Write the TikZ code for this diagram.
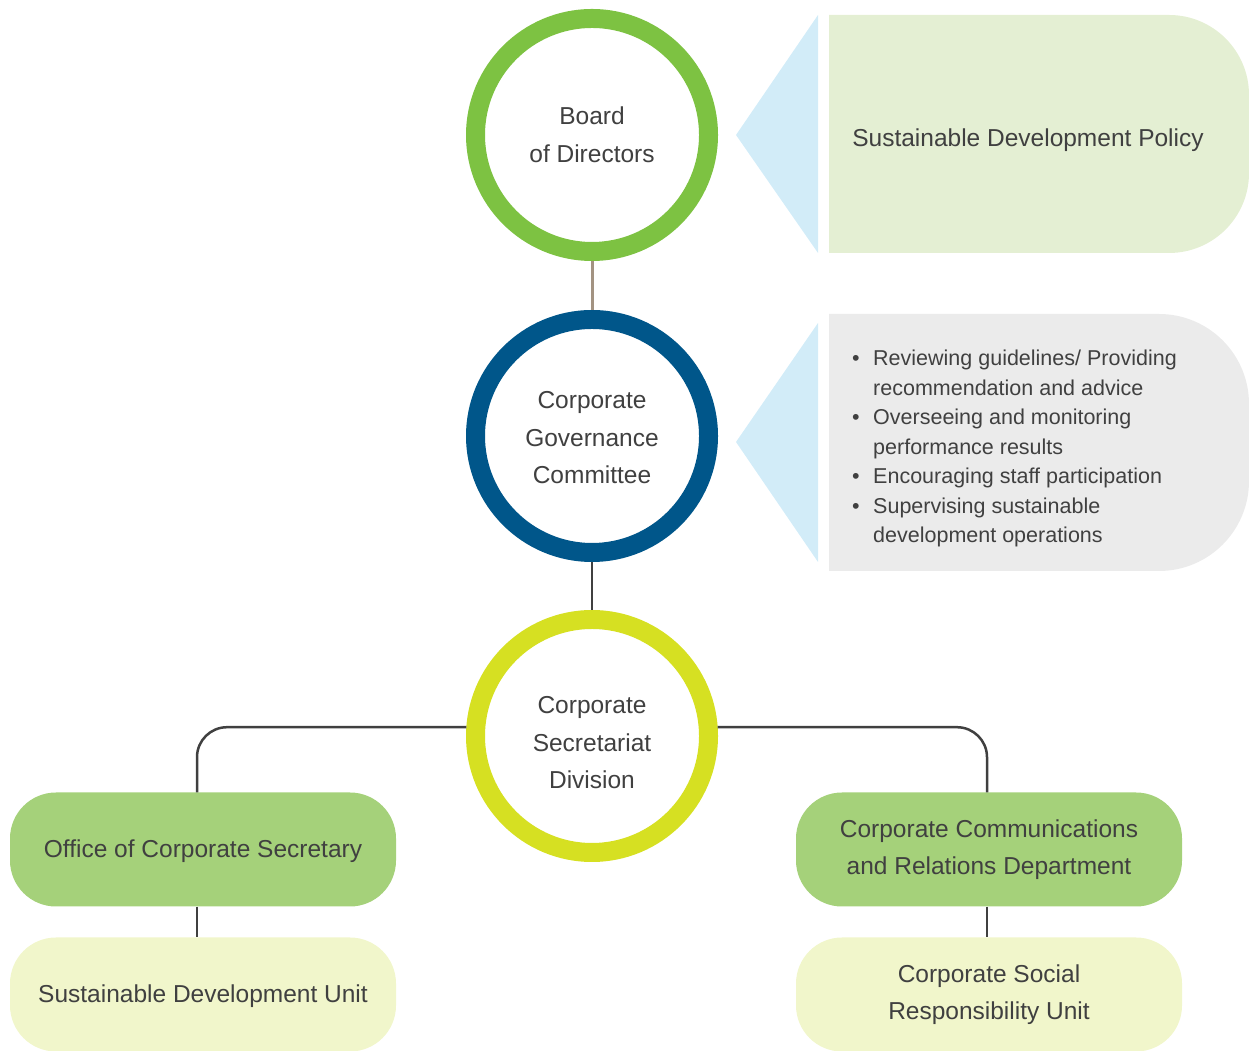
\documentclass[tikz,border=0pt]{standalone}
\usepackage{fontspec}
\setmainfont{Liberation Sans}
\usetikzlibrary{positioning}
\definecolor{boardgreen}{HTML}{7DC242}
\definecolor{cgcblue}{HTML}{00568A}
\definecolor{csdlime}{HTML}{D6E022}
\definecolor{policybg}{HTML}{E4EFD3}
\definecolor{dutybg}{HTML}{EBEBEB}
\definecolor{pointer}{HTML}{D2ECF8}
\definecolor{deptgreen}{HTML}{A5D17A}
\definecolor{unitbg}{HTML}{F1F6CB}
\definecolor{ink}{HTML}{404040}
\definecolor{tanline}{HTML}{A39382}

\begin{document}
\begin{tikzpicture}[x=1pt, y=1pt,
  ring/.style={circle, draw=#1, line width=19pt, fill=white, minimum size=233pt,
    inner sep=0pt, align=center, text=ink, font=\fontsize{24.5}{37.5}\selectfont},
  dept/.style={rounded corners=46pt, fill=#1, minimum width=386pt, minimum height=114pt,
    align=center, text=ink, font=\fontsize{24.5}{37.5}\selectfont},
  link/.style={draw=ink, line width=2.5pt}]
  \useasboundingbox (0,0) rectangle (1249,1051);

  \fill [policybg] (829,1036) -- (1169,1036) arc [start angle=90, end angle=0, radius=80]
    -- (1249,878) arc [start angle=0, end angle=-90, radius=80] -- (829,798) -- cycle;
  \fill [dutybg] (829,737) -- (1159,737) arc [start angle=90, end angle=0, radius=90]
    -- (1249,570) arc [start angle=0, end angle=-90, radius=90] -- (829,480) -- cycle;
  \fill [pointer] (736,916) -- (818,1036) -- (818,798) -- cycle;
  \fill [pointer] (736,609) -- (818,728) -- (818,489) -- cycle;

  \node [text=ink, font=\fontsize{24.5}{30}\selectfont] (policy) at (1028,911) {Sustainable Development Policy};
  \node [anchor=base west, inner sep=0pt, text=ink, font=\fontsize{21.5}{29.5}\selectfont] (duties) at (852,685)
    {\begin{tabular}[t]{@{}l@{\hspace{13.5pt}}l@{}}
      \textbullet & Reviewing guidelines/ Providing\\
                  & recommendation and advice\\
      \textbullet & Overseeing and monitoring\\
                  & performance results\\
      \textbullet & Encouraging staff participation\\
      \textbullet & Supervising sustainable\\
                  & development operations
    \end{tabular}};

  \node [ring=boardgreen] (board) at (592,916) {Board\\of Directors};
  \node [ring=cgcblue] (cgc) at (592,615) {\rule{0pt}{21pt}Corporate\\Governance\\Committee};
  \node [ring=csdlime] (csd) at (592,315) {\rule{0pt}{31pt}Corporate\\Secretariat\\Division};

  \node [dept=deptgreen] (office) at (203,201.5) {\rule{0pt}{22pt}Office of Corporate Secretary};
  \node [dept=unitbg] (sdu) at (203,56.5) {\rule{0pt}{22pt}Sustainable Development Unit};
  \node [dept=deptgreen] (ccr) at (989,201.5) {Corporate Communications\\and Relations Department};
  \node [dept=unitbg] (csr) at (989,56.5) {Corporate Social\\Responsibility Unit};

  \draw [tanline, line width=3pt] (board) -- (cgc);
  \draw [link] (cgc) -- (csd);
  \draw [link, rounded corners=30pt] (csd.176) -| ([xshift=-6pt]office.north);
  \draw [link, rounded corners=30pt] (csd.4) -| ([xshift=-2pt]ccr.north);
  \draw [link] ([xshift=-6pt]office.south) -- ([xshift=-6pt]sdu.north);
  \draw [link] ([xshift=-2pt]ccr.south) -- ([xshift=-2pt]csr.north);
\end{tikzpicture}
\end{document}
